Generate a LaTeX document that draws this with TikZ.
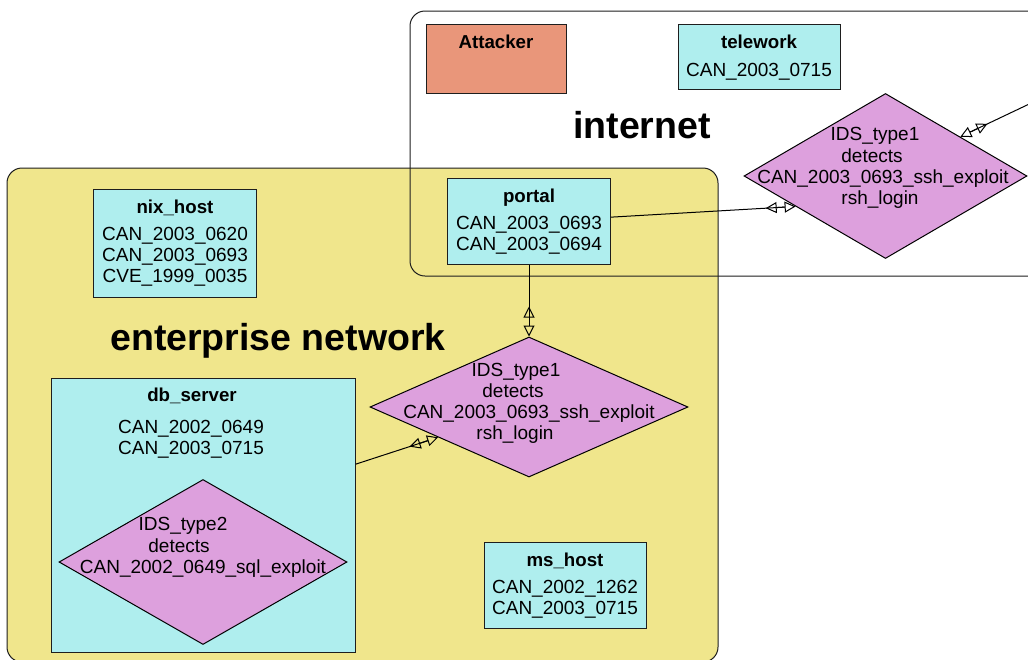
\documentclass[tikz,border=0pt]{standalone}
\usepackage{fontspec}
\setmainfont{Liberation Sans}
\usetikzlibrary{shapes.geometric,arrows.meta,calc}

\definecolor{khakifill}{HTML}{F0E68C}
\definecolor{turqfill}{HTML}{AFEEEE}
\definecolor{plumfill}{HTML}{DDA0DD}
\definecolor{salmonfill}{HTML}{E9967A}
\definecolor{edgegray}{HTML}{1E1E1E}

\tikzset{
  zone/.style={draw=edgegray, line width=1pt, rounded corners=15pt},
  hostbox/.style={draw=edgegray, fill=turqfill, line width=1pt, inner sep=0pt,
    anchor=north west},
  attackerbox/.style={hostbox, fill=salmonfill},
  idsnode/.style={shape=diamond, draw=black, fill=plumfill, line width=1pt,
    inner sep=0pt},
  body/.style={font=\fontsize{19}{22}\selectfont, anchor=base, inner sep=0pt},
  head/.style={font=\bfseries\fontsize{18.7}{22}\selectfont, anchor=base, inner sep=0pt},
  zonelabel/.style={font=\bfseries\fontsize{37.5}{40}\selectfont, anchor=base, inner sep=0pt},
  link/.style={draw=black, line width=1pt,
    -{Triangle[open,reversed,length=11pt,width=11pt]
      Square[length=8pt,width=1pt,line width=0pt]
      Triangle[open,length=11pt,width=11pt]}},
}

\begin{document}
\begin{tikzpicture}[x=1pt,y=-1pt]
\useasboundingbox (0,0) rectangle (1028,659);
\clip (0,0) rectangle (1028,659);
\fill[white] (0,0) rectangle (1028,659);

% enterprise network zone, then the outline of the internet zone on top
\draw[zone, fill=khakifill] (7,168) rectangle (718,662);
\draw[zone] (410,11) rectangle (1045,276);

\node[zonelabel] (internetlbl) at (642,138) {internet};
\node[zonelabel] (entlbl) at (278,350) {enterprise network};

% hosts in the internet zone
\node[attackerbox, minimum width=140pt, minimum height=69pt] (attacker) at (426,24) {};
\node[head] (attackerT) at (496,48) {Attacker};

\node[hostbox, minimum width=162pt, minimum height=65pt] (telework) at (678,24) {};
\node[head] (teleworkT) at (759,48) {telework};
\node[body] (teleworkA) at (759,76) {CAN\_2003\_0715};

\node[idsnode, minimum width=283pt, minimum height=165pt] (d1) at (885.5,176) {};
\node[body] (d1a) at (875,140) {IDS\_type1};
\node[body] (d1b) at (872,162) {detects};
\node[body] (d1c) at (883,183) {CAN\_2003\_0693\_ssh\_exploit};
\node[body] (d1d) at (880,204) {rsh\_login};

% hosts in the enterprise network
\node[hostbox, minimum width=163pt, minimum height=86pt] (portal) at (447,178) {};
\node[head] (portalT) at (529,202) {portal};
\node[body] (portalA) at (529,229) {CAN\_2003\_0693};
\node[body] (portalB) at (529,250) {CAN\_2003\_0694};

\node[hostbox, minimum width=163pt, minimum height=108pt] (nix) at (93,189) {};
\node[head] (nixT) at (175,213) {nix\_host};
\node[body] (nixA) at (175,240) {CAN\_2003\_0620};
\node[body] (nixB) at (175,261) {CAN\_2003\_0693};
\node[body] (nixC) at (175,282) {CVE\_1999\_0035};

\node[idsnode, minimum width=318pt, minimum height=140pt] (d2) at (529,407) {};
\node[body] (d2a) at (516,376) {IDS\_type1};
\node[body] (d2b) at (513,397) {detects};
\node[body] (d2c) at (529,418) {CAN\_2003\_0693\_ssh\_exploit};
\node[body] (d2d) at (515,439) {rsh\_login};

\node[hostbox, minimum width=304pt, minimum height=274pt] (db) at (51,378) {};
\node[head] (dbT) at (192,401) {db\_server};
\node[body] (dbA) at (191,433) {CAN\_2002\_0649};
\node[body] (dbB) at (191,454) {CAN\_2003\_0715};

\node[idsnode, minimum width=288pt, minimum height=165pt] (d3) at (203,562) {};
\node[body] (d3a) at (183,530) {IDS\_type2};
\node[body] (d3b) at (179,552) {detects};
\node[body] (d3c) at (203,573) {CAN\_2002\_0649\_sql\_exploit};

\node[hostbox, minimum width=162pt, minimum height=86pt] (ms) at (484,542) {};
\node[head] (msT) at (565,566) {ms\_host};
\node[body] (msA) at (565,593) {CAN\_2002\_1262};
\node[body] (msB) at (565,614) {CAN\_2003\_0715};

% connectors
\coordinate (feed) at (1045,96.5);
\draw[link] (feed) -- ($(d1.north)!0.527!(d1.east)$);
\draw[link] ($(portal.north east)!0.45!(portal.south east)$) -- ($(d1.west)!0.367!(d1.south)$);
\draw[link] (portal.south) -- (d2.north);
\draw[link] ($(db.north east)!0.313!(db.south east)$) -- ($(d2.west)!0.43!(d2.south)$);
\end{tikzpicture}
\end{document}
